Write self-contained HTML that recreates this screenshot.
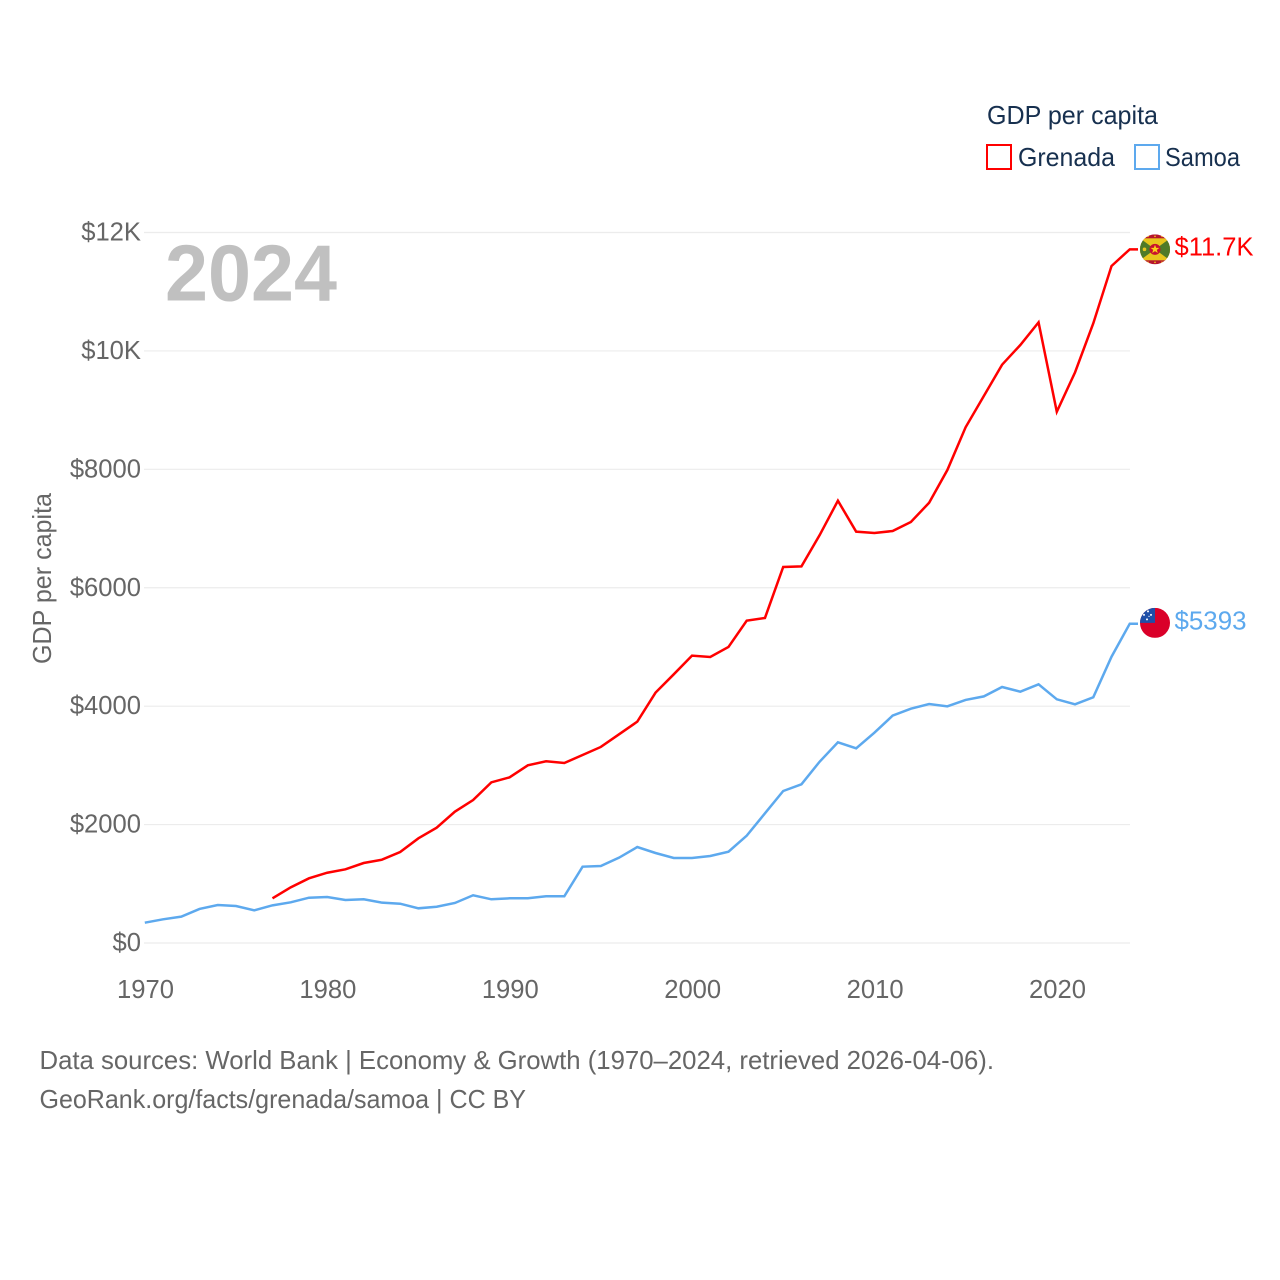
<!DOCTYPE html>
<html lang="en">
<head>
<meta charset="utf-8">
<title>GDP per capita: Grenada and Samoa</title>
<style>
html,body{margin:0;padding:0;background:#fff;}
svg{display:block;font-family:"Liberation Sans",sans-serif;}
.tick{font-size:25.6px;fill:#666;}
.legend{font-size:26px;fill:#17304f;}
.foot{font-size:26px;fill:#666;}
.val{font-size:26px;}
</style>
</head>
<body>
<svg id="chart" width="1280" height="1280" viewBox="0 0 1280 1280" xmlns="http://www.w3.org/2000/svg">
  <defs>
    <clipPath id="flag-clip"><circle cx="0" cy="0" r="15"/></clipPath>
  </defs>
  <rect x="0" y="0" width="1280" height="1280" fill="#fff"/>

  <g id="grid"></g>
  <g id="yticks"></g>
  <g id="xticks"></g>

  <text x="165" y="300.5" font-size="80" font-weight="700" fill="#c0c0c0" textLength="172" lengthAdjust="spacingAndGlyphs">2024</text>

  <text class="tick" font-size="26" transform="translate(51,664) rotate(-90)" textLength="171" lengthAdjust="spacingAndGlyphs">GDP per capita</text>

  <g id="lines"></g>

  <g id="flag-grenada">
    <g clip-path="url(#flag-clip)">
      <rect x="-15" y="-15" width="30" height="30" fill="#b5162e"/>
      <rect x="-15" y="-11" width="30" height="22" fill="#e8c51c"/>
      <polygon points="-15,-11 0,0 -15,11" fill="#4f7a28"/>
      <polygon points="15,-11 0,0 15,11" fill="#4f7a28"/>
      <circle cx="0" cy="0" r="5.5" fill="#c8102e"/>
      <polygon points="0,-4.5 1.2,-1.4 4.4,-1.4 1.8,0.6 2.8,3.7 0,1.8 -2.8,3.7 -1.8,0.6 -4.4,-1.4 -1.2,-1.4" fill="#fcd116"/>
      <circle cx="-10.5" cy="0" r="1.8" fill="#e8c51c"/>
      <circle cx="-7" cy="-13" r="0.8" fill="#fcd116"/>
      <circle cx="0" cy="-13" r="0.8" fill="#fcd116"/>
      <circle cx="7" cy="-13" r="0.8" fill="#fcd116"/>
      <circle cx="-7" cy="13" r="0.8" fill="#fcd116"/>
      <circle cx="0" cy="13" r="0.8" fill="#fcd116"/>
      <circle cx="7" cy="13" r="0.8" fill="#fcd116"/>
    </g>
  </g>
  <g id="flag-samoa">
    <g clip-path="url(#flag-clip)">
      <rect x="-15" y="-15" width="30" height="30" fill="#da0029"/>
      <rect x="-15" y="-15" width="15" height="15" fill="#1f4fa8"/>
      <circle cx="-7" cy="-11.5" r="1" fill="#fff"/>
      <circle cx="-11" cy="-8" r="1" fill="#fff"/>
      <circle cx="-4" cy="-8" r="1" fill="#fff"/>
      <circle cx="-6" cy="-6.5" r="0.6" fill="#fff"/>
      <circle cx="-8" cy="-3.5" r="1" fill="#fff"/>
    </g>
  </g>

  <text id="value-grenada" class="val" x="1174.5" fill="#ff0000" textLength="79" lengthAdjust="spacingAndGlyphs">$11.7K</text>
  <text id="value-samoa" class="val" x="1174.5" fill="#5da9ee" textLength="72" lengthAdjust="spacingAndGlyphs">$5393</text>

  <g>
    <text class="legend" x="987" y="124" textLength="171" lengthAdjust="spacingAndGlyphs">GDP per capita</text>
    <g>
      <rect x="987" y="145" width="24" height="24" fill="none" stroke="#ff0000" stroke-width="2"/>
      <text class="legend" x="1018" y="166" textLength="97" lengthAdjust="spacingAndGlyphs">Grenada</text>
    </g>
    <g>
      <rect x="1135" y="145" width="24" height="24" fill="none" stroke="#5da9ee" stroke-width="2"/>
      <text class="legend" x="1165" y="166" textLength="75" lengthAdjust="spacingAndGlyphs">Samoa</text>
    </g>
  </g>

  <g>
    <text class="foot" x="39.5" y="1069" textLength="954.5" lengthAdjust="spacingAndGlyphs">Data sources: World Bank | Economy &amp; Growth (1970–2024, retrieved 2026-04-06).</text>
    <text class="foot" x="39.5" y="1108" textLength="486.5" lengthAdjust="spacingAndGlyphs">GeoRank.org/facts/grenada/samoa | CC BY</text>
  </g>
</svg>
<script>
const samoaStartYear = 1970;
const grenadaStartYear = 1977;
const samoaValues = [343,400,445,575,642,625,552,636,687,765,777,726,738,681,664,586,613,676,806,738,755,755,789,789,1289,1300,1441,1621,1520,1436,1436,1469,1542,1813,2190,2567,2680,3063,3390,3288,3552,3840,3957,4037,3997,4105,4165,4324,4245,4369,4116,4031,4150,4835,5393];
const grenadaValues = [755,940,1092,1187,1244,1351,1407,1537,1768,1947,2218,2415,2714,2798,3001,3069,3040,3175,3311,3525,3738,4228,4538,4853,4831,5000,5444,5490,6351,6360,6890,7470,6947,6925,6958,7110,7436,7988,8710,9238,9767,10100,10483,8973,9638,10466,11434,11716];
const yTickValues = [0,2000,4000,6000,8000,10000,12000];
const yTickLabels = ["$0","$2000","$4000","$6000","$8000","$10K","$12K"];
const xTickValues = [1970,1980,1990,2000,2010,2020];
const xTickLabels = ["1970","1980","1990","2000","2010","2020"];

const NS = 'http://www.w3.org/2000/svg';
function xScale(year){ return 144.8 + (year - 1970) * 18.24; }
function yScale(v){ return 943 - v * (710.5 / 12000); }
function make(tag, attrs, parent){
  const el = document.createElementNS(NS, tag);
  Object.keys(attrs).forEach(function(k){ el.setAttribute(k, attrs[k]); });
  parent.appendChild(el);
  return el;
}

const gridG = document.getElementById('grid');
const yG = document.getElementById('yticks');
yTickValues.forEach(function(v, i){
  const line = make('line', {x1:144, x2:1130, y1:yScale(v), y2:yScale(v), stroke:'#ececec', 'stroke-width':1.2}, gridG);
  
  
  const label = make('text', {x:141, y:yScale(v)+8, 'text-anchor':'end', class:'tick'}, yG);
  
  
  label.textContent = yTickLabels[i];
});

const xG = document.getElementById('xticks');
xTickValues.forEach(function(v, i){
  const label = make('text', {x:xScale(v)+0.7, y:998, 'text-anchor':'middle', class:'tick'}, xG);
  
  
  label.textContent = xTickLabels[i];
});

function drawSeries(values, startYear, color, stubEnd){
  const pts = values.map(function(v, i){ return xScale(startYear + i).toFixed(2) + ',' + yScale(v).toFixed(2); });
  const last = values[values.length - 1];
  pts.push(stubEnd + ',' + yScale(last).toFixed(2));
  return make('polyline', {points:pts.join(' '), fill:'none', stroke:color, 'stroke-width':2.5, 'stroke-linejoin':'miter'}, document.getElementById('lines'));
}
const samoaLine = drawSeries(samoaValues, samoaStartYear, '#5da9ee', 1138);


const grenadaLine = drawSeries(grenadaValues, grenadaStartYear, '#ff0000', 1138);



const grenadaEnd = yScale(grenadaValues[grenadaValues.length - 1]);
const samoaEnd = yScale(samoaValues[samoaValues.length - 1]);
document.getElementById('flag-grenada').setAttribute('transform', 'translate(1155,' + grenadaEnd + ')');
document.getElementById('flag-samoa').setAttribute('transform', 'translate(1155,' + (samoaEnd - 0.8) + ')');
document.getElementById('value-grenada').setAttribute('y', grenadaEnd + 6);
document.getElementById('value-samoa').setAttribute('y', samoaEnd + 6);
</script>
</body>
</html>
